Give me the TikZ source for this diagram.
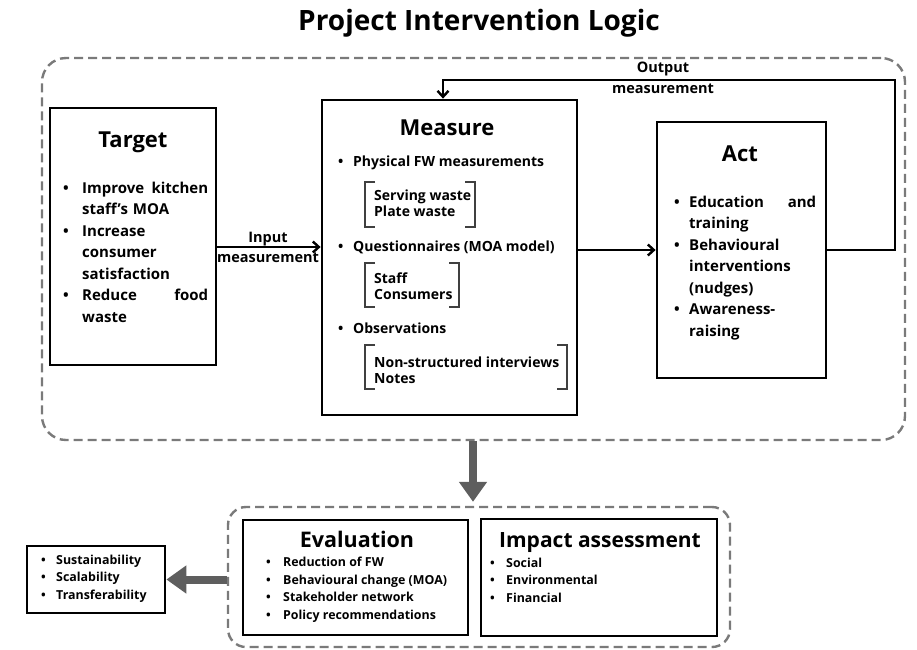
\documentclass[tikz,border=0pt]{standalone}
\usepackage{fontspec}
\setmainfont{Open Sans}
\usetikzlibrary{arrows.meta, positioning}

\definecolor{dashgray}{HTML}{7A7A7A}
\definecolor{arrowgray}{HTML}{5E5E5E}

% bullet and hanging indent for the hand-broken lists
\newcommand{\bul}[1][15pt]{\makebox[#1][l]{\textbullet}}
\newcommand{\ind}[1][15pt]{\hspace*{#1}}

\tikzset{
  box/.style={draw, line width=2.8pt, inner sep=0pt},
  zone/.style={draw=dashgray, line width=2.4pt, dash pattern=on 9pt off 5pt, rounded corners=24pt, inner sep=0pt},
  flow/.style={line width=2.4pt, -{Straight Barb[length=6pt,width=11pt]}},
  bigarrow/.style={draw=arrowgray, line width=8pt, -{Triangle[width=27pt,length=20pt]}},
  head/.style={font=\fontsize{22}{26}\selectfont\bfseries, anchor=base},
  lbl/.style={font=\fontsize{14.5}{17}\selectfont\bfseries, anchor=base},
  biglist/.style={font=\fontsize{15}{21.5}\selectfont\bfseries, align=left, anchor=base west, inner sep=0pt},
  midlist/.style={font=\fontsize{14}{16}\selectfont\bfseries, align=left, anchor=base west, inner sep=0pt},
  smalllist/.style={font=\fontsize{12.4}{17.5}\selectfont\bfseries, align=left, anchor=base west, inner sep=0pt},
}

\begin{document}
\begin{tikzpicture}[x=1pt, y=-1pt]
  \useasboundingbox (0,0) rectangle (917,649);

  \node[font=\fontsize{28}{32}\selectfont\bfseries, anchor=base] (title) at (479,30) {Project Intervention Logic};

  % dashed frames
  \node[zone, minimum width=863, minimum height=382] (logic) at (473.5,249) {};
  \node[zone, rounded corners=18pt, minimum width=502, minimum height=140] (results) at (479,577) {};

  % the three stages
  \node[box, minimum width=166, minimum height=257] (target) at (133,236.5) {};
  \node[box, minimum width=255, minimum height=315] (measure) at (449.5,257.5) {};
  \node[box, minimum width=169, minimum height=256] (act) at (741.5,250) {};

  \node[head] (targettitle) at (133,147) {Target};
  \node[biglist, text width=145] (targetlist) at (63,193) {%
    \bul[19pt]Improve\hfill kitchen\\
    \ind[19pt]staff’s MOA\\
    \bul[19pt]Increase\\
    \ind[19pt]consumer\\
    \ind[19pt]satisfaction\\
    \bul[19pt]Reduce\hfill food\\
    \ind[19pt]waste};

  \node[head] (measuretitle) at (447,135) {Measure};
  \node[midlist] (m1) at (338,166) {\bul Physical FW measurements};
  \node[midlist] (m2) at (374,216) {Serving waste\\Plate waste};
  \node[midlist] (m3) at (338,251) {\bul Questionnaires (MOA model)};
  \node[midlist] (m4) at (374,299) {Staff\\Consumers};
  \node[midlist] (m5) at (338,333) {\bul Observations};
  \node[midlist] (m6) at (374,383) {Non-structured interviews\\Notes};

  % brackets round the sub-items
  \foreach \xr/\ya/\yb in {475/182/227, 459/263/307, 567/345/389}
    \draw[line width=1.1pt, black!75] (375,\ya) -- (365,\ya) -- (365,\yb) -- (375,\yb)
      (\xr-10,\ya) -- (\xr,\ya) -- (\xr,\yb) -- (\xr-10,\yb);

  \node[head] (acttitle) at (740,161) {Act};
  \node[biglist, text width=142] (actlist) at (674,207) {%
    \bul[15pt]Education\hfill and\\
    \ind[15pt]training\\
    \bul[15pt]Behavioural\\
    \ind[15pt]interventions\\
    \ind[15pt](nudges)\\
    \bul[15pt]Awareness-\\
    \ind[15pt]raising};

  % connectors between the stages
  \coordinate (inp) at (0,247);
  \coordinate (fbR) at (895,80);
  \coordinate (fbL) at (443,80);
  \draw[flow] (target.east |- inp) -- (measure.west |- inp);
  \node[lbl] (inlbl) at (268,242) {Input};
  \node[lbl] (inlbl2) at (268,262) {measurement};
  \draw[flow] (measure.east |- act.west) -- (act.west);
  \draw[flow] (act.east) -| (fbR) -- (fbL) -- (fbL |- measure.north);
  \node[lbl] (outlbl) at (663,72) {Output};
  \node[lbl] (outlbl2) at (663,93) {measurement};

  % evaluation and impact
  \node[box, minimum width=225, minimum height=115] (eval) at (355.5,577.5) {};
  \node[box, minimum width=236, minimum height=117] (impact) at (599,577.5) {};
  \node[box, minimum width=138, minimum height=67] (side) at (96,579.5) {};

  \node[head, font=\fontsize{21.5}{26}\selectfont\bfseries] (evaltitle) at (357,547) {Evaluation};
  \node[smalllist] (evallist) at (266,619) {%
    \bul[17pt]Reduction of FW\\
    \bul[17pt]Behavioural change (MOA)\\
    \bul[17pt]Stakeholder network\\
    \bul[17pt]Policy recommendations};

  \node[head, font=\fontsize{21}{26}\selectfont\bfseries] (impacttitle) at (600,547) {Impact assessment};
  \node[smalllist] (impactlist) at (490,602) {%
    \bul[16pt]Social\\
    \bul[16pt]Environmental\\
    \bul[16pt]Financial};

  \node[smalllist] (sidelist) at (41,599) {%
    \bul[15pt]Sustainability\\
    \bul[15pt]Scalability\\
    \bul[15pt]Transferability};

  \coordinate (gap) at (473,0);
  \draw[bigarrow, shorten >=4pt] (logic.south -| gap) -- (results.north -| gap);
  \draw[bigarrow] (results.west |- side.east) -- (side.east);
\end{tikzpicture}
\end{document}
